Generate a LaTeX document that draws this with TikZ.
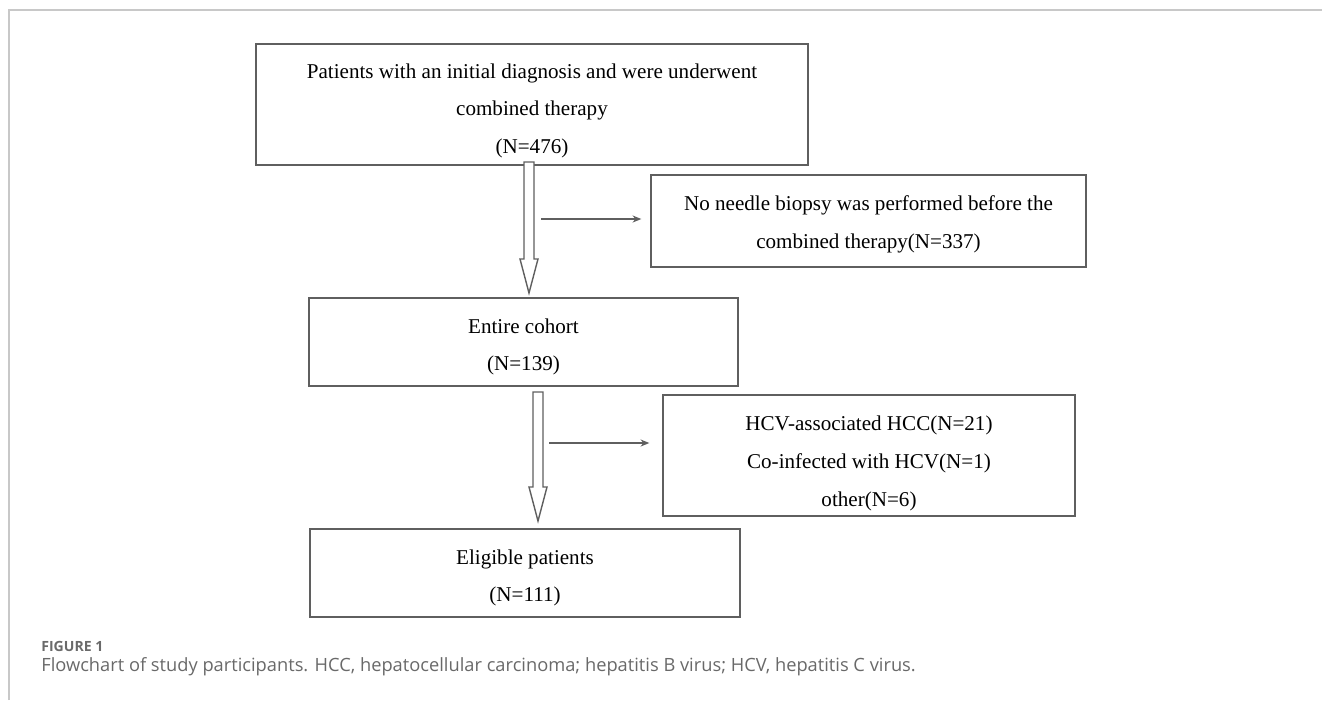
\documentclass[tikz,border=0pt]{standalone}
\usepackage{fontspec}
\setmainfont{Liberation Serif}
\newfontfamily\capfont{Open Sans}
\usetikzlibrary{calc,arrows.meta}
\definecolor{framegray}{RGB}{200,200,200}
\definecolor{linegray}{RGB}{95,95,95}
\definecolor{capgray}{RGB}{105,105,105}
\def\fatarrow(#1)(#2){\draw[hollow] ($(#1)+(-5,0)$) -- ($(#2)+(-5,-34)$) -- ($(#2)+(-9,-34)$) -- (#2) -- ($(#2)+(9,-34)$) -- ($(#2)+(5,-34)$) -- ($(#1)+(5,0)$) -- cycle;}
\tikzset{
	box/.style={draw=linegray, line width=0.8pt, align=center, inner sep=0pt,
		font=\fontsize{12}{21.5}\selectfont},
	hollow/.style={draw=linegray, fill=white, line width=0.8pt, line join=miter},
	thinarrow/.style={draw=linegray, line width=0.6pt, -{Stealth[length=5pt,width=4pt]}}
}

\begin{document}
\begin{tikzpicture}[x=0.02cm,y=-0.02cm]
				\useasboundingbox (0,0) rectangle (1322,700);
				\draw[framegray, line width=0.6pt] (9,700) -- (9,10) -- (1322,10);
				
				\node[box, minimum width=11.04cm, minimum height=2.42cm, text height=59pt, text depth=3pt] (start) at (532,104.5)
					{Patients with an initial diagnosis and were underwent\\ combined therapy\\ (N=476)};
				\node[box, minimum width=8.7cm, minimum height=1.84cm, text height=34pt, text depth=3pt] (nobiopsy) at (868.5,221)
					{No needle biopsy was performed before the\\ combined therapy(N=337)};
				\node[box, minimum width=8.58cm, minimum height=1.76cm, text height=36pt, text depth=3pt] (cohort) at (523.5,342)
					{Entire cohort\\ (N=139)};
				\node[box, minimum width=8.24cm, minimum height=2.42cm, text height=61pt, text depth=3pt] (excluded) at (869,455.5)
					{HCV-associated HCC(N=21)\\ Co-infected with HCV(N=1)\\ other(N=6)};
				\node[box, minimum width=8.6cm, minimum height=1.76cm, text height=36pt, text depth=3pt] (eligible) at (525,573)
					{Eligible patients\\ (N=111)};
				
				% main flow
				\coordinate (a1top) at (529,162);
				\coordinate (a1tip) at (529,293);
				\fatarrow(a1top)(a1tip)
				\coordinate (a2top) at (538,392);
				\coordinate (a2tip) at (538,521);
				\fatarrow(a2top)(a2tip)
				
				% exclusions
				\coordinate (b1) at (541,219);
				\coordinate (b2) at (549,443);
				\draw[thinarrow, shorten >=0.18cm] (b1) -- (b1 -| nobiopsy.west);
				\draw[thinarrow, shorten >=0.26cm] (b2) -- (b2 -| excluded.west);
				
				\node[anchor=base west, inner sep=0pt, text=capgray, font=\capfont\bfseries\fontsize{8}{10}\selectfont] (figlabel) at (41,651) {FIGURE 1};
				\node[anchor=base west, inner sep=0pt, text=capgray, font=\capfont\fontsize{10.4}{12}\selectfont] (caption) at (41,671)
					{Flowchart of study participants. HCC, hepatocellular carcinoma; hepatitis B virus; HCV, hepatitis C virus.};
			\end{tikzpicture}
\end{document}
